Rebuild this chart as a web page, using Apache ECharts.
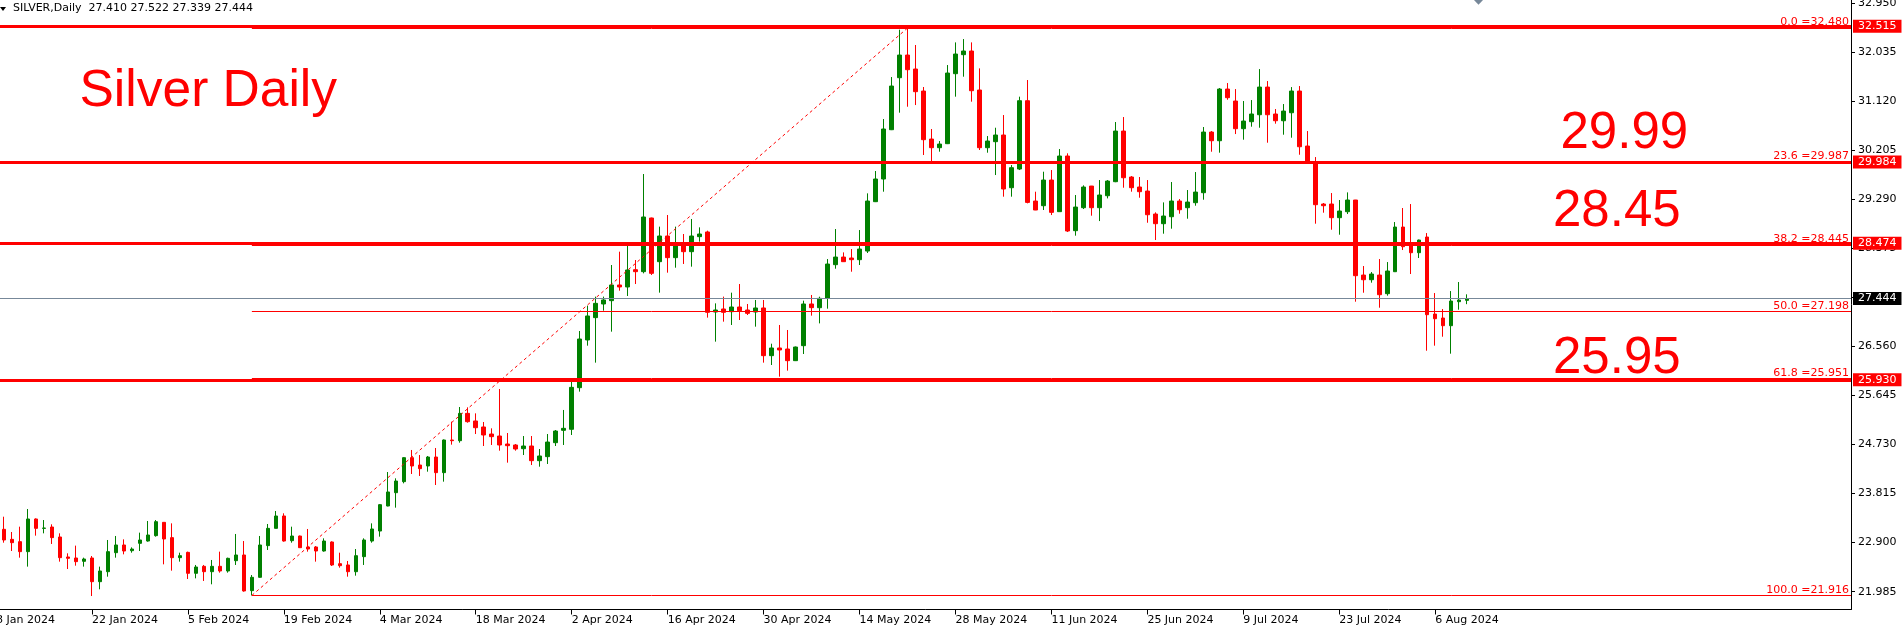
<!DOCTYPE html>
<html>
<head>
<meta charset="utf-8">
<script src="https://cdn.jsdelivr.net/npm/echarts@6.0.0/dist/echarts.min.js"></script>
<style>
html,body{margin:0;padding:0;background:#ffffff;}
#chart{width:1904px;height:629px;}
</style>
</head>
<body>
<div id="chart"></div>
<script>
// ---------- DATA ----------
const symbolName = 'SILVER,Daily';
const opens = [23.147,22.960,22.917,22.731,23.339,23.165,23.190,23.004,22.632,22.613,22.551,22.613,22.172,22.358,22.712,22.855,22.749,22.886,22.929,23.029,23.277,22.992,22.619,22.718,22.328,22.458,22.358,22.458,22.371,22.563,22.669,22.005,22.253,22.843,23.165,23.395,22.935,23.022,22.818,22.818,22.743,22.911,22.507,22.483,22.358,22.638,22.929,23.115,23.581,23.829,24.034,24.481,24.344,24.326,24.493,24.202,24.810,24.797,25.306,25.164,25.052,24.921,24.884,24.735,24.717,24.648,24.698,24.425,24.500,24.760,24.990,25.009,25.784,26.672,27.088,27.342,27.404,27.696,27.659,27.981,27.944,28.943,28.130,28.608,28.205,28.465,28.316,28.596,28.683,27.193,27.249,27.199,27.286,27.230,27.193,27.268,26.380,26.523,26.504,26.287,26.566,27.342,27.273,27.447,28.074,28.216,28.198,28.167,28.328,29.247,29.669,30.587,31.555,31.977,31.717,31.307,30.413,30.252,30.327,31.630,31.984,32.052,31.326,30.252,30.364,30.488,29.507,29.855,31.127,29.259,29.172,29.650,29.061,30.097,28.707,29.135,29.538,29.135,29.358,29.619,30.562,29.706,29.520,29.445,29.017,28.837,28.967,29.259,29.135,29.228,29.414,30.543,30.382,31.344,31.121,30.606,30.736,30.866,31.381,30.879,30.754,30.903,31.307,30.283,29.991,29.203,29.203,28.949,29.060,29.278,27.881,27.794,27.881,27.534,27.943,28.775,28.440,28.297,28.589,27.155,27.081,26.938,27.385,27.410];
const highs = [23.382,23.097,23.196,23.525,23.351,23.320,23.240,23.072,22.700,22.843,22.619,22.650,22.452,22.948,23.023,22.960,22.811,23.085,23.302,23.320,23.277,23.258,22.712,22.731,22.483,22.483,22.576,22.731,22.619,23.060,22.929,22.296,23.023,23.246,23.488,23.445,23.196,23.030,23.153,22.836,22.979,22.923,22.712,22.557,22.780,22.979,23.258,23.618,24.214,24.096,24.490,24.624,24.530,24.512,24.661,24.820,25.151,25.424,25.418,25.306,25.145,25.027,25.759,24.940,24.735,24.884,24.884,24.642,24.921,24.996,25.369,25.896,26.839,27.311,27.479,27.479,28.068,28.316,28.422,28.161,29.762,28.950,28.782,28.999,28.782,28.645,28.925,28.769,28.707,27.354,27.479,27.553,27.714,27.342,27.417,27.417,26.603,26.951,26.858,26.550,27.404,27.510,27.478,28.179,28.738,28.303,28.365,28.719,29.402,29.818,30.786,31.568,32.450,32.480,32.164,31.382,30.600,30.376,31.791,32.213,32.275,32.213,31.729,30.469,30.624,30.860,29.929,31.202,31.512,29.433,29.805,29.836,30.227,30.147,29.371,29.551,29.540,29.650,29.650,30.730,30.823,29.724,29.706,29.650,29.048,29.234,29.613,29.296,29.464,29.799,30.637,30.562,31.363,31.456,31.344,31.121,31.139,31.716,31.493,30.972,31.065,31.381,31.400,30.562,30.078,29.222,29.408,29.278,29.420,29.280,28.049,27.937,28.179,28.123,28.868,29.129,29.203,28.540,28.663,27.546,27.248,27.583,27.751,27.522];
const lows = [22.898,22.743,22.619,22.452,23.029,23.072,22.874,22.545,22.408,22.470,22.452,21.905,22.030,22.265,22.619,22.681,22.712,22.743,22.917,23.010,22.495,22.377,22.545,22.222,22.234,22.185,22.123,22.340,22.340,22.483,21.986,21.916,22.247,22.762,23.165,22.917,22.898,22.800,22.731,22.545,22.731,22.464,22.433,22.265,22.284,22.483,22.898,23.010,23.575,23.550,24.003,24.177,24.140,24.220,23.972,24.034,24.723,24.760,25.132,24.921,24.698,24.717,24.611,24.388,24.611,24.530,24.344,24.313,24.363,24.698,24.717,24.903,25.710,26.566,26.250,27.218,26.827,27.590,27.491,27.714,27.913,27.882,27.553,27.925,28.018,28.087,28.037,28.502,27.088,26.641,27.013,26.951,27.044,27.137,26.920,26.250,26.206,25.989,26.101,26.280,26.411,27.125,26.981,27.255,27.999,28.125,27.943,28.068,28.291,29.240,29.433,30.580,30.904,31.015,31.046,30.116,29.991,30.178,30.320,31.202,31.574,31.109,30.209,30.159,29.743,29.340,29.340,29.836,29.216,29.090,29.092,28.998,29.060,28.682,28.614,29.110,28.986,28.886,29.308,29.610,29.507,29.433,29.321,28.855,28.533,28.651,28.744,29.023,28.930,29.172,29.284,30.177,30.159,31.145,30.506,30.401,30.643,30.624,30.345,30.699,30.494,30.438,30.121,29.980,28.837,29.042,28.725,28.632,29.017,27.385,27.552,27.739,27.273,27.497,27.940,28.347,27.900,28.198,26.472,26.566,26.733,26.417,27.236,27.339];
const closes = [22.948,22.898,22.731,23.339,23.165,23.171,22.992,22.619,22.607,22.545,22.594,22.172,22.371,22.731,22.855,22.743,22.780,22.948,23.041,23.289,22.967,22.619,22.656,22.328,22.445,22.358,22.458,22.371,22.607,22.669,21.999,22.253,22.855,23.165,23.395,22.929,23.022,22.805,22.780,22.743,22.929,22.483,22.470,22.358,22.656,22.948,23.153,23.606,23.842,24.046,24.481,24.326,24.276,24.493,24.202,24.810,24.797,25.306,25.151,25.039,24.903,24.872,24.717,24.704,24.642,24.698,24.425,24.512,24.772,24.977,25.027,25.790,26.690,27.119,27.354,27.417,27.696,27.659,27.975,27.944,28.962,27.913,28.608,28.205,28.465,28.316,28.608,28.645,27.187,27.230,27.187,27.286,27.218,27.168,27.268,26.380,26.523,26.486,26.287,26.541,27.342,27.274,27.447,28.086,28.216,28.130,28.167,28.365,29.259,29.669,30.600,31.400,31.977,31.704,31.295,30.401,30.252,30.320,31.642,31.996,32.052,31.313,30.252,30.376,30.488,29.483,29.880,31.127,29.234,29.092,29.650,29.048,30.097,28.701,29.147,29.520,29.135,29.371,29.631,30.562,29.693,29.507,29.433,29.004,28.837,28.980,29.259,29.097,29.240,29.426,30.543,30.382,31.344,31.183,30.606,30.748,30.879,31.381,30.866,30.754,30.934,31.307,30.270,29.991,29.191,29.172,28.949,29.073,29.278,27.869,27.794,27.900,27.515,27.956,28.775,28.409,28.297,28.533,27.143,27.068,26.938,27.397,27.416,27.444];

// horizontal support / resistance lines (thick) and their price tags
const levelPrices = [32.515, 29.984, 28.474, 25.930];
// Fibonacci retracement
const fibRatios = ['0.0', '23.6', '38.2', '50.0', '61.8', '100.0'];
const fibPrices = [32.480, 29.987, 28.445, 27.198, 25.951, 21.916];
// big annotation texts
const bigLabels = ['29.99', '28.45', '25.95'];
const titleText = 'Silver Daily';
// y-axis tick labels
const yTickLabels = ['21.985','22.900','23.815','24.730','25.645','26.560','27.460','28.375','29.290','30.205','31.120','32.035','32.950'];
// x-axis: daily bars (Sun–Fri, Good Friday closed), first category = 8 Jan 2024
const monthNames = ['Jan','Feb','Mar','Apr','May','Jun','Jul','Aug','Sep','Oct','Nov','Dec'];
const closedDays = ['2024-03-29'];
const firstDay = '2024-01-08';
const totalSlots = 233;          // bars + empty right margin
const firstCandleSlot = 1;       // 9 Jan 2024
const labelEvery = 12;
const fibFromSlot = 32;          // swing low bar
const fibToSlot = 114;           // swing high bar

// ---------- build categories ----------
const categories = [];
{
  const d = new Date(firstDay + 'T00:00:00Z');
  while (categories.length < totalSlots) {
    const iso = d.toISOString().slice(0, 10);
    if (d.getUTCDay() !== 6 && closedDays.indexOf(iso) < 0) {
      categories.push(d.getUTCDate() + ' ' + monthNames[d.getUTCMonth()] + ' ' + d.getUTCFullYear());
    }
    d.setUTCDate(d.getUTCDate() + 1);
  }
}
const lastCandleSlot = firstCandleSlot + opens.length - 1;

const candleData = [];
for (let s = 0; s < firstCandleSlot; s++) candleData.push(['-', '-', '-', '-']);
for (let i = 0; i < opens.length; i++) candleData.push([opens[i], closes[i], lows[i], highs[i]]);

const RED = '#ff0000';
const GREEN = '#008000';
const SMALL_FONT = 'DejaVu Sans';
const lastPrice = closes[closes.length - 1];

const tagLabel = (txt, bg) => ({
  show: true, position: 'end', distance: 2, formatter: txt,
  backgroundColor: bg, color: '#ffffff', fontFamily: SMALL_FONT, fontSize: 11,
  lineHeight: 12, padding: [1, 5, 0, 5]
});

const markData = [];
// fib retracement levels (thin)
fibPrices.forEach((p, k) => {
  markData.push([
    { coord: [fibFromSlot, p], lineStyle: { color: RED, width: 1, type: 'solid' },
      label: { show: true, position: 'insideEndTop', distance: [2, 0], formatter: fibRatios[k] + ' =' + p.toFixed(3),
               color: RED, fontFamily: SMALL_FONT, fontSize: 11 } },
    { coord: [totalSlots - 1, p] }
  ]);
});
// fib trend line (dotted)
markData.push([
  { coord: [fibFromSlot, fibPrices[fibPrices.length - 1]], lineStyle: { color: RED, width: 1, type: [3, 3] }, label: { show: false } },
  { coord: [fibToSlot, fibPrices[0]] }
]);
// current price line
markData.push({ yAxis: lastPrice, lineStyle: { color: '#778899', width: 1, type: 'solid' }, label: tagLabel(lastPrice.toFixed(3), '#000000') });
// thick levels
levelPrices.forEach(p => {
  markData.push({ yAxis: p, lineStyle: { color: RED, width: 3, type: 'solid' }, label: tagLabel(p.toFixed(3), RED) });
});

const chart = echarts.init(document.getElementById('chart'), null, { renderer: 'canvas' });
const showLabel = (idx) => idx % labelEvery === 0 && idx <= lastCandleSlot;

chart.setOption({
  animation: false,
  backgroundColor: '#ffffff',
  grid: { left: -4, right: 53, top: 0, bottom: 19.5, containLabel: false, outerBoundsMode: 'none' },
  xAxis: {
    type: 'category', data: categories, boundaryGap: false,
    axisLine: { show: true, onZero: false, lineStyle: { color: '#000000', width: 1 } },
    axisTick: { show: true, length: 5, interval: showLabel, lineStyle: { color: '#000000' } },
    axisLabel: { show: true, interval: showLabel, align: 'left', margin: 5, color: '#000000',
                 fontFamily: SMALL_FONT, fontSize: 11, hideOverlap: false },
    splitLine: { show: false }
  },
  yAxis: {
    type: 'value', position: 'right', min: 21.654, max: 33.002, scale: true,
    axisLine: { show: true, lineStyle: { color: '#000000', width: 1 } },
    axisTick: { show: true, length: 4, customValues: yTickLabels.map(Number), lineStyle: { color: '#000000' } },
    axisLabel: { show: true, customValues: yTickLabels.map(Number), margin: 7, color: '#000000',
                 fontFamily: SMALL_FONT, fontSize: 11, formatter: v => Number(v).toFixed(3) },
    splitLine: { show: false }
  },
  series: [{
    type: 'candlestick',
    data: candleData,
    barWidth: 4,
    clip: false,
    itemStyle: { color: GREEN, color0: RED, borderColor: GREEN, borderColor0: RED, borderWidth: 1 },
    emphasis: { disabled: true },
    markLine: {
      silent: true, animation: false, symbol: ['none', 'none'], precision: 3,
      emphasis: { disabled: true },
      data: markData
    }
  }],
  graphic: [
    { type: 'polygon', shape: { points: [[0, 7], [6, 7], [3, 11]] }, style: { fill: '#000000' } },
    { type: 'polygon', shape: { points: [[1474, 0], [1483, 0], [1478.5, 4.7]] }, style: { fill: '#778899' } },
    { type: 'text', x: 13, y: 8.2, style: { text: symbolName + '  ' + [opens, highs, lows, closes].map(a => a[a.length - 1].toFixed(3)).join(' '),
        fill: '#000000', font: '11px "DejaVu Sans"', align: 'left', verticalAlign: 'middle' } },
    { type: 'text', x: 79.5, y: 92, style: { text: titleText, fill: RED, font: '51.5px "Liberation Sans"', align: 'left', verticalAlign: 'middle' } },
    { type: 'text', x: 1560.5, y: 134, style: { text: bigLabels[0], fill: RED, font: '51px "Liberation Sans"', align: 'left', verticalAlign: 'middle' } },
    { type: 'text', x: 1553, y: 212, style: { text: bigLabels[1], fill: RED, font: '51px "Liberation Sans"', align: 'left', verticalAlign: 'middle' } },
    { type: 'text', x: 1553, y: 359, style: { text: bigLabels[2], fill: RED, font: '51px "Liberation Sans"', align: 'left', verticalAlign: 'middle' } }
  ]
});
</script>
</body>
</html>
